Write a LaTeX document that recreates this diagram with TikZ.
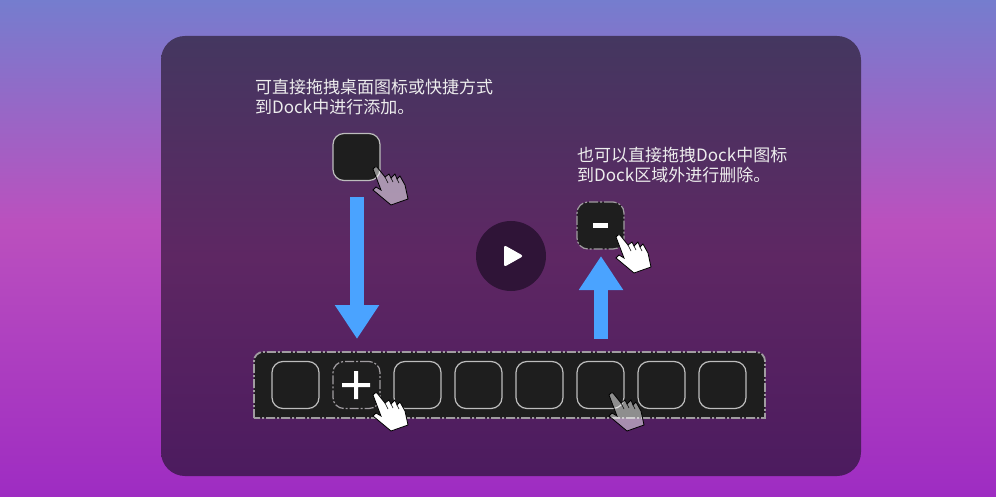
\documentclass[tikz,border=0pt]{standalone}
\usepackage{fontspec}
\usepackage{xcolor}
\usepackage{tikz}
\usetikzlibrary{arrows.meta}
\newfontfamily\cjk{Noto Sans CJK SC}
\definecolor{dockfill}{HTML}{1E1E1E}
\definecolor{cellline}{HTML}{BDBDBD}
\definecolor{dashline}{HTML}{A09CA0}
\definecolor{arrowblue}{HTML}{4AA3FF}
\definecolor{playfill}{HTML}{2F1437}
\definecolor{pagetop}{RGB}{117,125,206}
\definecolor{pagemid}{RGB}{187,80,190}
\definecolor{pagelow}{RGB}{158,44,194}
\definecolor{paneltop}{RGB}{68,55,96}
\definecolor{panelmid}{RGB}{94,39,99}
\definecolor{panellow}{RGB}{76,27,95}
\pgfdeclareverticalshading{pagebg}{100bp}{color(0bp)=(pagelow); color(25bp)=(pagelow);
  color(52.4bp)=(pagemid); color(75bp)=(pagetop); color(100bp)=(pagetop)}
\pgfdeclareverticalshading{panelbg}{100bp}{color(0bp)=(panellow); color(25bp)=(panellow);
  color(50bp)=(panelmid); color(75bp)=(paneltop); color(100bp)=(paneltop)}
\tikzset{
  cell/.style={draw=cellline, fill=dockfill, line width=1.2pt, rounded corners=11pt, minimum size=47pt, inner sep=0pt},
  dashcell/.style={cell, draw=dashline, dash pattern=on 9pt off 2pt on 2pt off 2pt},
  caption/.style={anchor=west, align=left, inner sep=0pt, text=white!93!black, font=\cjk\fontsize{17}{20}\selectfont},
  bluearrow/.style={draw=arrowblue, line width=14pt, -{Triangle[width=42pt,length=34pt]}},
  pics/handcursor/.style={code={
    \draw[black, line width=0.8pt, fill=white, fill opacity=#1]
      (0,2) -- (2,0) -- (4,0) -- (12,10) -- (16,7) -- (18,11) -- (22,7) -- (24,12) -- (27,9)
      -- (32,18) -- (35,32) -- (18,38) -- (12,33) -- (0,23) -- (3,20) -- (8,23) -- cycle;
    \draw[black, line width=0.6pt] (12,10) -- (15,16) (18,11) -- (20,15) (24,12) -- (26,16);
  }}
}
\begin{document}
\begin{tikzpicture}[x=1pt,y=-1pt]
  \useasboundingbox (0,0) rectangle (996,497);
  \shade[shading=pagebg] (0,0) rectangle (996,497);
  \shade[shading=panelbg, rounded corners=24pt] (161,36) rectangle (861,476);
  % texts
  \node[caption] at (255,97) (addtext){可直接拖拽桌面图标或快捷方式\\到Dock中进行添加。};
  \node[caption] at (577,165) (removetext){也可以直接拖拽Dock中图标\\到Dock区域外进行删除。};
  % dock
  \draw[draw=dashline, fill=dockfill, line width=1.8pt, dash pattern=on 9pt off 2pt on 2pt off 2pt]
    (254,418) [rounded corners=9pt] -- (254,352) -- (765,352) [sharp corners] -- (765,418) -- cycle;
  \foreach \n/\px/\sty in {1/295.5/cell,2/356.5/dashcell,3/417.5/cell,4/478.5/cell,5/539.5/cell,6/600.5/cell,7/661.5/cell,8/722.5/cell}
    \node[\sty] at (\px,385) (cell\n){};
  \node[inner sep=0pt] at (356,385) (plus){\tikz[x=1pt,y=-1pt]{\fill[white] (0,12) rectangle (28,16) (12,0) rectangle (16,28);}};
  % the two loose boxes
  \node[cell] at (356.5,157) (srcbox){};
  \node[dashcell] at (600.5,225.5) (minusbox){};
  \node[fill=white, minimum width=15pt, minimum height=5pt, inner sep=0pt] at (600.5,225.5) (minus){};
  % arrows
  \coordinate (downstart) at (357,197);
  \coordinate (downend) at (357,339);
  \coordinate (upstart) at (601,339);
  \coordinate (upend) at (601,256);
  \draw[bluearrow] (downstart) -- (downend);
  \draw[bluearrow] (upstart) -- (upend);
  % play button
  \node[circle, fill=playfill, minimum size=70pt, inner sep=0pt] at (511,256) (play){};
  \fill[white, rounded corners=2.5pt] (504,245) -- (523.5,256) -- (504,267) -- cycle;
  % cursors
  \pic at (373,167) {handcursor=0.5};
  \pic at (616,235) {handcursor=1};
  \pic at (373,393) {handcursor=1};
  \pic at (609,393) {handcursor=0.5};
\end{tikzpicture}
\end{document}
